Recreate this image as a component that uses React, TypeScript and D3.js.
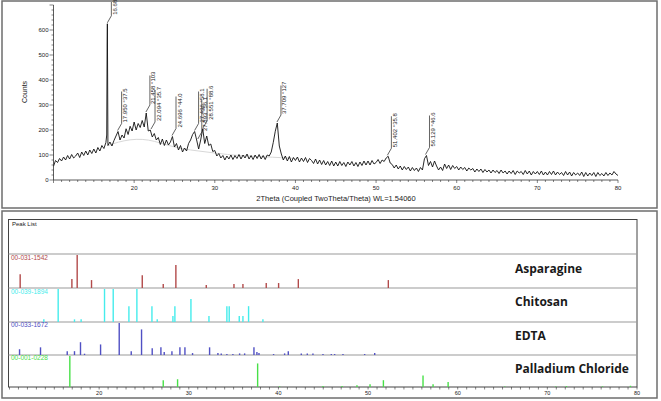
import React from "react";
import * as d3 from "d3";

// ---------- DATA ----------
const countStart = 10;
const countStep = 0.25;
const counts = [
  55, 78, 70, 86, 76, 92, 80, 98, 84, 102, 88, 96, 108, 90, 112, 98,
  116, 100, 120, 106, 124, 108, 130, 116, 138, 126, 150, 138, 152, 136, 158, 176,
  194, 160, 180, 168, 205, 182, 215, 196, 232, 200, 226, 210, 238, 212, 268, 196,
  200, 172, 186, 160, 170, 142, 164, 138, 160, 140, 152, 174, 132, 146, 120, 138,
  112, 128, 116, 146, 160, 182, 194, 160, 124, 160, 205, 146, 176, 138, 144, 114,
  118, 96, 106, 88, 98, 80, 96, 84, 100, 82, 98, 86, 102, 84, 100, 88,
  104, 84, 98, 82, 100, 86, 102, 84, 98, 82, 100, 96, 112, 150, 195, 228,
  136, 104, 80, 96, 76, 94, 72, 90, 78, 92, 72, 88, 74, 90, 70, 86,
  78, 66, 84, 64, 80, 62, 78, 60, 74, 58, 76, 56, 72, 56, 74, 58,
  70, 54, 72, 60, 74, 56, 70, 54, 72, 58, 76, 60, 76, 60, 78, 64,
  70, 82, 66, 80, 74, 88, 95, 68, 62, 48, 60, 44, 56, 40, 54, 42,
  52, 36, 50, 38, 48, 34, 50, 40, 85, 98, 58, 74, 52, 76, 56, 40,
  52, 38, 64, 46, 60, 42, 58, 46, 54, 40, 52, 42, 50, 36, 48, 40,
  46, 32, 44, 34, 44, 30, 42, 32, 40, 28, 40, 30, 38, 26, 40, 28,
  36, 24, 36, 26, 38, 22, 36, 28, 34, 22, 38, 24, 36, 20, 34, 24,
  34, 22, 36, 20, 32, 20, 34, 22, 36, 20, 32, 22, 30, 18, 34, 20,
  32, 16, 30, 20, 28, 18, 32, 14, 30, 16, 28, 18, 30, 14, 30, 18,
  26, 16, 30, 18, 28, 20, 34, 24, 18,
];
const mainPeakAngles = [16.6, 16.65, 16.68, 16.71];
const mainPeakCounts = [180, 540, 625, 420];

const bgAngles = [16.8, 18, 19.5, 21, 22.5, 24, 26, 28, 30, 32, 35, 38, 40];
const bgCounts = [138, 152, 162, 164, 156, 140, 124, 116, 108, 100, 94, 90, 86];

const peakLabelAngles = [16.68, 17.95, 21.458, 22.094, 24.696, 27.496, 27.893, 28.551, 37.709, 51.402, 56.129];
const peakLabelTexts = [
  "16.68", "17.950 °37.5", "21.458 °103", "22.094 °35.7", "24.696 °44.0",
  "27.496 °58.1", "27.893 °56.1", "28.551 °88.6", "37.709 °127", "51.402 °35.8", "56.129 °46.6",
];

const yTicks = [0, 100, 200, 300, 400, 500, 600];
const xTicks = [20, 30, 40, 50, 60, 70, 80];

const phaseCodes = ["00-031-1542", "00-039-1894", "00-033-1672", "00-001-0228"];
const phaseNames = ["Asparagine", "Chitosan", "EDTA", "Palladium Chloride"];
const phaseColors = ["#b24a4a", "#45ecec", "#5050c4", "#48e048"];

const asparagineAngles = [11.19, 16.96, 17.55, 19.15, 24.81, 27.15, 28.56, 31.95, 35.04, 36.04, 38.64, 40.02, 42.22, 52.26];
const asparagineInt = [42, 27, 100, 24, 39, 12, 70, 9, 12, 12, 15, 15, 27, 24];

const chitosanAngles = [13.83, 15.43, 17.25, 17.99, 20.6, 21.57, 23.32, 24.21, 25.89, 26.48, 28.23, 28.45, 30.24, 32.25, 34.25, 34.51, 35.63, 36.04, 36.67, 38.27];
const chitosanInt = [8, 100, 8, 8, 100, 100, 48, 100, 48, 8, 18, 48, 70, 18, 48, 48, 18, 18, 48, 8];

const edtaAngles = [11.12, 13.46, 16.44, 17.25, 17.92, 18.37, 20.16, 22.24, 23.58, 24.73, 25.92, 26.89, 27.26, 28.12, 29.01, 29.57, 30.42, 32.32, 33.25, 33.62, 34.25, 34.92, 35.67, 36.23, 37.27, 37.6, 37.83, 39.46, 40.69, 41.1, 42.55, 43.22, 43.85, 44.97, 45.9, 46.27, 47.2, 49.62, 50.74];
const edtaInt = [18, 24, 12, 12, 40, 4, 33, 100, 12, 80, 21, 24, 9, 12, 24, 24, 6, 24, 6, 5, 3, 3, 5, 5, 24, 9, 6, 3, 5, 12, 5, 5, 5, 3, 3, 3, 3, 3, 6];

const pdclAngles = [16.73, 27.15, 28.75, 37.68, 40.13, 44.97, 47.1, 48.76, 50.22, 51.71, 56.13, 57.25, 58.93, 65.25, 70.94, 72.13, 76.15, 79.27];
const pdclInt = [100, 22, 25, 76, 2, 3, 3, 6, 9, 22, 37, 9, 16, 2, 2, 3, 2, 4];

const phaseAngles = [asparagineAngles, chitosanAngles, edtaAngles, pdclAngles];
const phaseInts = [asparagineInt, chitosanInt, edtaInt, pdclInt];

// ---------- LAYOUT ----------
const W = 661;
const H = 401;
const FONT = "'Liberation Sans', Arial, sans-serif";
const NARROW = "'Liberation Sans Narrow', 'Arial Narrow', 'Liberation Sans', sans-serif";

export default function App() {
  const x = d3.scaleLinear().domain([10, 80]).range([53.5, 618]);
  const y = d3.scaleLinear().domain([0, 700]).range([180, 5]);

  const base = counts.map((c, i) => ({ a: countStart + i * countStep, c }));
  const extra = mainPeakAngles.map((a, i) => ({ a, c: mainPeakCounts[i] }));
  const pattern = [...base, ...extra].sort((p, q) => p.a - q.a);
  const line = d3
    .line<{ a: number; c: number }>()
    .x((d) => x(d.a))
    .y((d) => y(d.c));
  const bg = bgAngles.map((a, i) => ({ a, c: bgCounts[i] }));
  const bgLine = d3
    .line<{ a: number; c: number }>()
    .x((d) => x(d.a))
    .y((d) => y(d.c))
    .curve(d3.curveBasis);

  const peakCount = (ang: number) => {
    let m = 0;
    pattern.forEach((p) => {
      if (Math.abs(p.a - ang) <= 0.15 && p.c > m) m = p.c;
    });
    return m;
  };

  const xMinor = d3.range(10, 81, 1);
  const yMinor = d3.range(0, 701, 20);

  const xb = d3.scaleLinear().domain([10, 80]).range([9.5, 637]);
  const rowTops = [254, 288, 322, 355];
  const rowBottoms = [288, 322, 355, 387];
  const codeBaselines = [260, 294, 327, 360];
  const nameBaselines = [273, 306, 340, 373];

  return (
    <svg
      width={W}
      height={H}
      style={{ position: "absolute", left: 0, top: 0, background: "#fff" }}
    >
      <rect x={2} y={1} width={655} height={207} fill="none" stroke="#6e6e6e" strokeWidth={1.5} />
      <rect x={2} y={211} width={655} height={187} fill="none" stroke="#6e6e6e" strokeWidth={1.5} />

      {/* ---------- TOP PATTERN ---------- */}
      <path d={bgLine(bg) || ""} fill="none" stroke="#d8d8d8" strokeWidth={1} />
      <path d={line(pattern) || ""} fill="none" stroke="#111" strokeWidth={0.9} strokeLinejoin="round" />

      <line x1={x(10)} x2={x(10)} y1={y(700)} y2={y(0)} stroke="#333" strokeWidth={0.8} />
      {yMinor.map((v) => (
        <line key={"ym" + v} x1={x(10) - (v % 100 === 0 ? 4 : 2)} x2={x(10)} y1={y(v)} y2={y(v)} stroke="#333" strokeWidth={0.6} />
      ))}
      {yTicks.map((v) => (
        <text key={"yt" + v} x={x(10) - 5} y={y(v) + 2} fontSize={6} fontFamily={FONT} textAnchor="end" fill="#222">
          {v}
        </text>
      ))}
      <text transform={`translate(27,92) rotate(-90)`} fontSize={7} fontFamily={FONT} textAnchor="middle" fill="#222">
        Counts
      </text>

      <line x1={x(10)} x2={x(80)} y1={y(0)} y2={y(0)} stroke="#333" strokeWidth={0.8} />
      {xMinor.map((v) => (
        <line key={"xm" + v} x1={x(v)} x2={x(v)} y1={y(0)} y2={y(0) + (v % 10 === 0 ? 3 : 2)} stroke="#333" strokeWidth={0.6} />
      ))}
      {xTicks.map((v) => (
        <text key={"xt" + v} x={x(v)} y={190} fontSize={6} fontFamily={FONT} textAnchor="middle" fill="#222">
          {v}
        </text>
      ))}
      <text x={336} y={201} fontSize={7.5} fontFamily={FONT} textAnchor="middle" fill="#222">
        2Theta (Coupled TwoTheta/Theta) WL=1.54060
      </text>

      {peakLabelAngles.map((a, i) => {
        const px = x(a);
        const py = y(peakCount(a));
        const L = peakLabelTexts[i].length * 2.5 + 2;
        const y0 = py - 8;
        const y1 = Math.max(2, y0 - L);
        return (
          <g key={"pl" + i}>
            <path
              d={`M${px},${py - 1} L${px + 4},${y0} L${px + 4},${y1}`}
              fill="none"
              stroke="#222"
              strokeWidth={0.7}
            />
            <text
              transform={`translate(${px + 9.5},${y0 - 1}) rotate(-90)`}
              fontSize={6}
              fontFamily={NARROW}
              fill="#222"
            >
              {peakLabelTexts[i]}
            </text>
          </g>
        );
      })}

      {/* ---------- BOTTOM PEAK LIST ---------- */}
      <rect x={8.5} y={219.5} width={628.5} height={167.5} fill="none" stroke="#444" strokeWidth={1} />
      <text x={12} y={226} fontSize={6} fontFamily={FONT} fill="#222">
        Peak List
      </text>
      {rowTops.map((t, r) => (
        <line key={"rl" + r} x1={8.5} x2={637} y1={t} y2={t} stroke="#9a9a9a" strokeWidth={1.2} />
      ))}

      {phaseAngles.map((angs, r) => {
        const ys = d3
          .scaleLinear()
          .domain([0, 100])
          .range([rowBottoms[r], rowTops[r] + 1]);
        return (
          <g key={"ph" + r}>
            {angs.map((a, k) => (
              <line
                key={k}
                x1={xb(a)}
                x2={xb(a)}
                y1={ys(0)}
                y2={ys(phaseInts[r][k])}
                stroke={phaseColors[r]}
                strokeWidth={1.4}
              />
            ))}
            <text x={11} y={codeBaselines[r]} fontSize={6.5} fontFamily={FONT} fill={phaseColors[r]}>
              {phaseCodes[r]}
            </text>
            <text
              x={515}
              y={nameBaselines[r]}
              fontSize={12}
              fontWeight={700}
              fontFamily="'Open Sans', 'Liberation Sans', sans-serif"
              fill="#1a1a1a"
            >
              {phaseNames[r]}
            </text>
          </g>
        );
      })}

      {xMinor.map((v) => (
        <line key={"bm" + v} x1={xb(v)} x2={xb(v)} y1={387} y2={389.5} stroke="#333" strokeWidth={0.6} />
      ))}
      {xTicks.map((v) => (
        <text key={"bt" + v} x={xb(v)} y={395} fontSize={5.5} fontFamily={FONT} textAnchor="middle" fill="#222">
          {v}
        </text>
      ))}
    </svg>
  );
}
